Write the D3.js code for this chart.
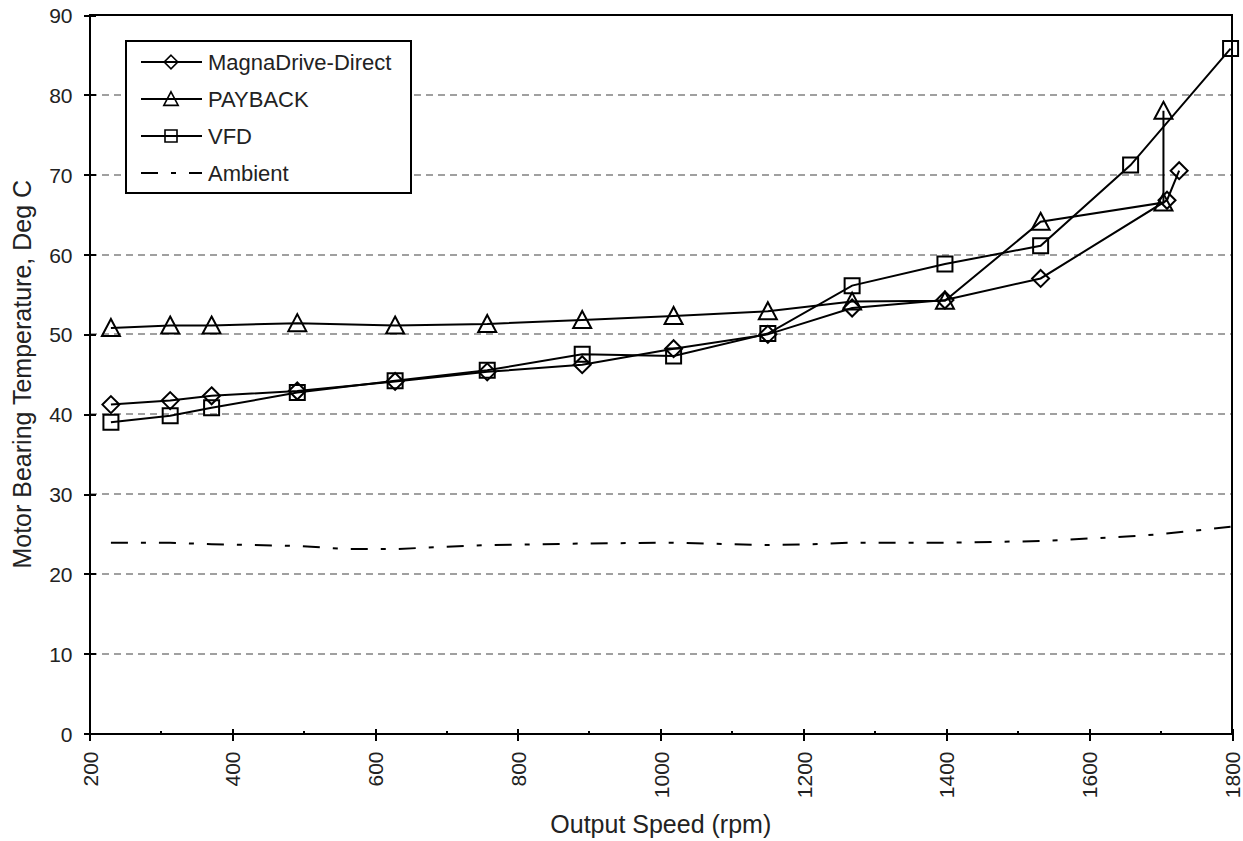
<!DOCTYPE html>
<html>
<head>
<meta charset="utf-8">
<title>Motor Bearing Temperature</title>
<style>
	body { margin: 0; background: #fff; }
	svg text { font-family: "Liberation Sans", Arial, sans-serif; fill: #222; }
	.tick text { font-size: 21px; }
	.axis line { stroke: #000; stroke-width: 2; shape-rendering: crispEdges; }
	.grid line { stroke: #a0a0a0; stroke-width: 2; stroke-dasharray: 7,5; shape-rendering: crispEdges; }
	.series path { fill: none; stroke: #000; stroke-width: 2; }
	.marker { fill: #fff; stroke: #000; stroke-width: 1.5; }
</style>
<script src="https://d3js.org/d3.v7.min.js"></script>
</head>
<body>
<svg id="chart" width="1243" height="841"></svg>
<script>
	// data
	var magnaRpm  = [230, 313, 371, 491, 628, 757, 890, 1018, 1150, 1268, 1398, 1532, 1709, 1726];
	var magnaTemp = [41.2, 41.7, 42.3, 42.9, 44.1, 45.3, 46.2, 48.2, 50.0, 53.3, 54.3, 57.0, 66.8, 70.5];

	var paybackRpm  = [230, 313, 371, 491, 628, 757, 890, 1018, 1150, 1268, 1398, 1532, 1704, 1704];
	var paybackTemp = [50.8, 51.1, 51.1, 51.4, 51.1, 51.3, 51.8, 52.3, 52.9, 54.1, 54.2, 64.1, 66.5, 78.0];

	var vfdRpm  = [230, 313, 371, 491, 628, 757, 890, 1018, 1150, 1268, 1398, 1532, 1658, 1798];
	var vfdTemp = [39.0, 39.8, 40.8, 42.7, 44.2, 45.5, 47.5, 47.3, 50.1, 56.1, 58.8, 61.1, 71.2, 85.8];

	var ambientRpm  = [230, 313, 371, 491, 560, 628, 700, 757, 890, 1018, 1100, 1150, 1210, 1268, 1398, 1532, 1658, 1704, 1798];
	var ambientTemp = [23.9, 23.9, 23.7, 23.5, 23.1, 23.1, 23.4, 23.6, 23.8, 23.9, 23.7, 23.6, 23.7, 23.9, 23.9, 24.1, 24.7, 25.0, 25.9];

	var xTicks = [200, 400, 600, 800, 1000, 1200, 1400, 1600, 1800];
	var xMinorTicks = [300, 500, 700, 900, 1100, 1300, 1500, 1700];
	var yTicks = [0, 10, 20, 30, 40, 50, 60, 70, 80, 90];
	var gridTicks = [10, 20, 30, 40, 50, 60, 70, 80];

	var series = [
		{name: "MagnaDrive-Direct", rpm: magnaRpm, temp: magnaTemp, marker: "diamond"},
		{name: "PAYBACK", rpm: paybackRpm, temp: paybackTemp, marker: "triangle"},
		{name: "VFD", rpm: vfdRpm, temp: vfdTemp, marker: "square"},
		{name: "Ambient", rpm: ambientRpm, temp: ambientTemp, marker: null, dash: "17,13,5,13"}
	];

	var plotLeft = 89.5, plotRight = 1232, plotTop = 15, plotBottom = 733.5;

	var x = d3.scaleLinear().domain([200, 1800]).range([plotLeft, plotRight]);
	var y = d3.scaleLinear().domain([0, 90]).range([plotBottom, plotTop]);

	var svg = d3.select("#chart");

	// grid
	svg.append("g").attr("class", "grid")
		.selectAll("line").data(gridTicks).enter().append("line")
		.attr("x1", plotLeft).attr("x2", plotRight)
		.attr("y1", function(d) { return y(d); })
		.attr("y2", function(d) { return y(d); });

	// frame
	svg.append("rect")
		.attr("x", plotLeft).attr("y", plotTop)
		.attr("width", plotRight - plotLeft).attr("height", plotBottom - plotTop)
		.attr("fill", "none").attr("stroke", "#000").attr("stroke-width", 2)
		.attr("shape-rendering", "crispEdges");

	// y axis
	var yAxis = svg.append("g").attr("class", "axis")
		.attr("transform", "translate(" + plotLeft + ",0)")
		.call(d3.axisLeft(y).tickValues(yTicks).tickFormat(d3.format("d")).tickSize(6).tickPadding(11));
	yAxis.select(".domain").remove();
	yAxis.selectAll(".tick line").attr("x1", -6).attr("x2", 6);
	yAxis.selectAll(".tick text").attr("dy", "0.36em");

	// x axis
	var xAxis = svg.append("g").attr("class", "axis")
		.attr("transform", "translate(0," + plotBottom + ")")
		.call(d3.axisBottom(x).tickValues(xTicks).tickFormat(d3.format("d")).tickSize(7));
	xAxis.select(".domain").remove();
	xAxis.selectAll(".tick line").attr("y1", -5).attr("y2", 7);
	xAxis.selectAll(".tick text")
		.attr("y", 0).attr("x", -18).attr("dy", "0.36em")
		.attr("transform", "rotate(-90)")
		.style("text-anchor", "end");
	xAxis.selectAll(".minor").data(xMinorTicks).enter().append("line")
		.attr("class", "minor")
		.attr("x1", function(d) { return x(d); }).attr("x2", function(d) { return x(d); })
		.attr("y1", 0).attr("y2", -3);

	// axis titles
	svg.append("text")
		.attr("x", (plotLeft + plotRight) / 2).attr("y", 833)
		.style("text-anchor", "middle").style("font-size", "25px")
		.text("Output Speed (rpm)");
	svg.append("text")
		.attr("transform", "translate(31," + ((plotTop + plotBottom) / 2) + ") rotate(-90)")
		.style("text-anchor", "middle").style("font-size", "25px")
		.text("Motor Bearing Temperature, Deg C");

	function markerPath(type) {
		if (type === "diamond") return "M0,-8.5L8.5,0L0,8.5L-8.5,0Z";
		if (type === "triangle") return "M0,-9L9,8L-9,8Z";
		if (type === "square") return "M-7.5,-7.5H7.5V7.5H-7.5Z";
		return "";
	}

	var line = d3.line()
		.x(function(d) { return x(d[0]); })
		.y(function(d) { return y(d[1]); });

	series.forEach(function(s) {
		var pts = s.rpm.map(function(r, i) { return [r, s.temp[i]]; });
		var g = svg.append("g").attr("class", "series");
		var p = g.append("path").datum(pts).attr("d", line);
		if (s.dash) p.attr("stroke-dasharray", s.dash);
		if (s.marker) {
			g.selectAll(".marker").data(pts).enter().append("path")
				.attr("class", "marker")
				.attr("transform", function(d) { return "translate(" + x(d[0]) + "," + y(d[1]) + ")"; })
				.attr("d", markerPath(s.marker));
		}
	});

	// legend
	var legend = svg.append("g");
	legend.append("rect")
		.attr("x", 126).attr("y", 41).attr("width", 285).attr("height", 152)
		.attr("fill", "#fff").attr("stroke", "#000").attr("stroke-width", 2)
		.attr("shape-rendering", "crispEdges");
	var rows = legend.selectAll(".row").data(series).enter().append("g")
		.attr("class", "series")
		.attr("transform", function(d, i) { return "translate(0," + (62 + i * 37) + ")"; });
	rows.append("path")
		.attr("d", "M141,0H202")
		.attr("stroke-dasharray", function(d) { return d.dash || null; });
	rows.filter(function(d) { return d.marker; }).append("path")
		.attr("class", "marker")
		.attr("transform", "translate(171,0) scale(0.8)")
		.attr("d", function(d) { return markerPath(d.marker); });
	rows.append("text")
		.attr("x", 208).attr("dy", "0.36em")
		.style("font-size", "22px")
		.text(function(d) { return d.name; });
</script>
</body>
</html>
